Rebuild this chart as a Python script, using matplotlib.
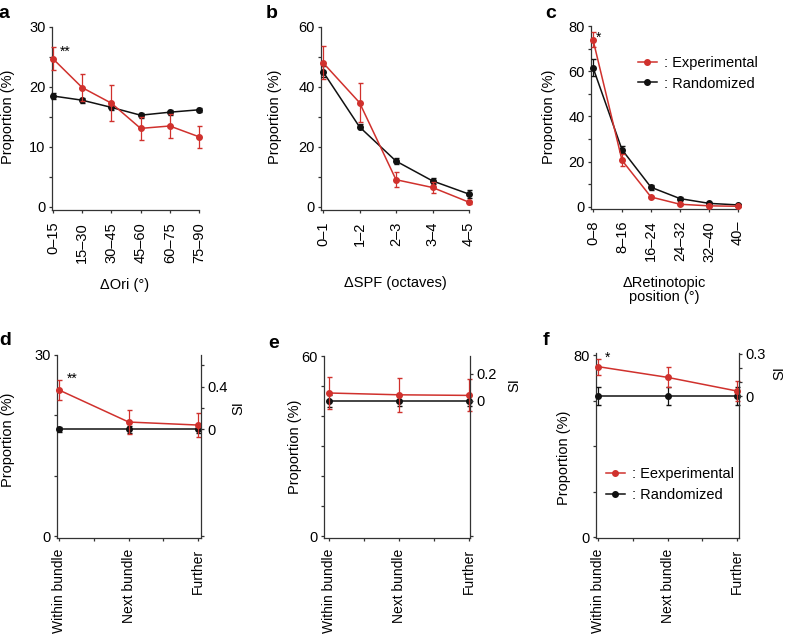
import numpy as np
import matplotlib
matplotlib.use('Agg')
import matplotlib.pyplot as plt
from matplotlib.lines import Line2D

plt.rcParams['font.family'] = ['Liberation Sans', 'DejaVu Sans']
plt.rcParams['font.size'] = 10.5

W, H = 786, 637
RED = '#d0312d'
BLK = '#111111'
AX = '#333333'

# ---- data ----
a_cats = ['0\u201315', '15\u201330', '30\u201345', '45\u201360', '60\u201375', '75\u201390']
a_exp = [24.7, 19.9, 17.3, 13.1, 13.5, 11.7]
a_exp_err = [1.9, 2.2, 3.0, 1.9, 2.0, 1.8]
a_rand = [18.5, 17.8, 16.6, 15.3, 15.8, 16.2]
a_rand_err = [0.5, 0.4, 0.4, 0.4, 0.4, 0.3]

b_cats = ['0\u20131', '1\u20132', '2\u20133', '3\u20134', '4\u20135']
b_exp = [48.1, 34.8, 9.1, 6.5, 1.6]
b_exp_err = [5.5, 6.5, 2.5, 1.8, 0.5]
b_rand = [45.1, 26.7, 15.3, 8.7, 4.3]
b_rand_err = [1.8, 0.8, 1.0, 0.9, 1.2]

c_cats = ['0\u20138', '8\u201316', '16\u201324', '24\u201332', '32\u201340', '40\u2013']
c_exp = [73.9, 20.6, 4.4, 1.2, 0.5, 0.3]
c_exp_err = [3.3, 2.6, 0.6, 0.3, 0.2, 0.1]
c_rand = [61.6, 25.3, 8.7, 3.7, 1.6, 0.9]
c_rand_err = [3.8, 1.5, 1.0, 0.5, 0.3, 0.2]

bundle_cats = ['Within bundle', 'Next bundle', 'Further']
d_exp = [24.2, 18.9, 18.4]
d_exp_err = [1.6, 2.0, 2.05]
d_rand = [17.7, 17.7, 17.7]
d_rand_err = [0.45, 0.55, 0.6]

e_exp = [47.7, 47.1, 46.9]
e_exp_err = [5.3, 5.7, 5.3]
e_rand = [45.1, 45.1, 45.1]
e_rand_err = [2.0, 1.8, 1.8]

f_exp = [74.9, 70.2, 64.2]
f_exp_err = [3.5, 4.4, 4.6]
f_rand = [62.0, 62.0, 62.0]
f_rand_err = [4.0, 3.8, 3.8]


def fx(px):
    return px / W


def fy(py):
    return 1 - py / H


fig = plt.figure(figsize=(W / 100, H / 100), dpi=100)


def make_ax(l, r, t, b, xlim, ylim):
    ax = fig.add_axes([fx(l), fy(b), (r - l) / W, (b - t) / H])
    ax.set_xlim(*xlim)
    ax.set_ylim(*ylim)
    ax.patch.set_alpha(0)
    for s in ['top', 'right']:
        ax.spines[s].set_visible(False)
    for s in ['left', 'bottom']:
        ax.spines[s].set_color(AX)
        ax.spines[s].set_linewidth(0.9)
    ax.tick_params(length=2.5, width=0.9, color=AX, pad=2)
    ax.tick_params(axis='x', pad=6)
    return ax


def draw(ax, x, exp, exp_err, rand, rand_err):
    ax.errorbar(x, rand, yerr=rand_err, color=BLK, lw=1.1, marker='o', ms=4,
                capsize=1.8, elinewidth=0.9, clip_on=False, zorder=3)
    ax.errorbar(x, exp, yerr=exp_err, color=RED, lw=1.1, marker='o', ms=4,
                capsize=1.8, elinewidth=0.9, clip_on=False, zorder=4)


def set_yticks(ax, ticks, labelled):
    ax.set_yticks(ticks)
    ax.set_yticklabels([str(t) if t in labelled else '' for t in ticks])


# ---------- a ----------
ax = make_ax(52, 199, 27, 210, (-0.034, 5), (-0.5, 30))
xa = np.arange(len(a_cats))
draw(ax, xa, a_exp, a_exp_err, a_rand, a_rand_err)
ax.set_xticks(xa)
ax.set_xticklabels(a_cats, rotation=90, va='top')
set_yticks(ax, [0, 5, 10, 15, 20, 25, 30], [0, 10, 20, 30])
ax.text(0.43, 25.8, '**', ha='center', va='center', fontsize=10)

# ---------- b ----------
ax = make_ax(321, 469, 27, 210, (-0.055, 4), (-1, 60))
xb = np.arange(len(b_cats))
draw(ax, xb, b_exp, b_exp_err, b_rand, b_rand_err)
ax.set_xticks(xb)
ax.set_xticklabels(b_cats, rotation=90, va='top')
set_yticks(ax, [0, 10, 20, 30, 40, 50, 60], [0, 20, 40, 60])

# ---------- c ----------
ax = make_ax(591, 738, 26, 209, (-0.07, 5), (-0.9, 80))
xc = np.arange(len(c_cats))
draw(ax, xc, c_exp, c_exp_err, c_rand, c_rand_err)
ax.set_xticks(xc)
ax.set_xticklabels(c_cats, rotation=90, va='top')
set_yticks(ax, [0, 10, 20, 30, 40, 50, 60, 70, 80], [0, 20, 40, 60, 80])
ax.text(0.2, 75.0, '*', ha='center', va='center', fontsize=10)
ax.legend(handles=[Line2D([], [], color=RED, marker='o', ms=4, lw=1.1, label=': Experimental'),
                   Line2D([], [], color=BLK, marker='o', ms=4, lw=1.1, label=': Randomized')],
          loc='upper left', bbox_to_anchor=(fx(638), fy(56)), bbox_transform=fig.transFigure,
          frameon=False, handlelength=1.3, handletextpad=0.5, labelspacing=0.45,
          borderpad=0, borderaxespad=0, fontsize=10.5)

# ---------- bottom row ----------
xs = np.arange(len(bundle_cats))
bottom = [
    (57, 201, 355, 538, (-0.03, 2.04), (-0.3, 30), d_exp, d_exp_err, d_rand, d_rand_err,
     [0, 10, 20, 30], [0, 30], [-1, 0, 0.2, 0.4, 0.6], ['', '0', '', '0.4', '']),
    (324, 470, 356, 538, (-0.07, 2.01), (-0.5, 60), e_exp, e_exp_err, e_rand, e_rand_err,
     [0, 10, 20, 30, 40, 50, 60], [0, 60], [-1, 0, 0.2], ['', '0', '0.2']),
    (596, 739, 353, 538, (-0.03, 2.03), (-0.4, 80.9), f_exp, f_exp_err, f_rand, f_rand_err,
     [0, 20, 40, 60, 80], [0, 80], [0, 0.1, 0.2, 0.3], ['0', '', '', '0.3']),
]
bottom_axes = []
for (l, r, t, b, xl, yl, ex, exe, ra, rae, yt, ylab, st, stl) in bottom:
    ax = make_ax(l, r, t, b, xl, yl)
    draw(ax, xs, ex, exe, ra, rae)
    ax.set_xticks([0, 0.5, 1, 1.5, 2])
    ax.set_xticklabels([bundle_cats[0], '', bundle_cats[1], '', bundle_cats[2]],
                       rotation=90, va='top', fontsize=10)
    ax.tick_params(axis='x', pad=5)
    set_yticks(ax, yt, ylab)
    base = ra[0]
    ax2 = ax.twinx()
    ax2.set_ylim(yl[0] / base - 1, yl[1] / base - 1)
    for s in ['top', 'left', 'bottom']:
        ax2.spines[s].set_visible(False)
    ax2.spines['right'].set_color(AX)
    ax2.spines['right'].set_linewidth(0.9)
    ax2.tick_params(length=2.5, width=0.9, color=AX, pad=2)
    ax2.set_yticks(st)
    ax2.set_yticklabels(stl)
    bottom_axes.append(ax)

bottom_axes[0].text(0.19, 26.0, '**', ha='center', va='center', fontsize=10)
bottom_axes[2].text(0.13, 78.8, '*', ha='center', va='center', fontsize=10)
bottom_axes[2].legend(handles=[Line2D([], [], color=RED, marker='o', ms=4, lw=1.1, label=': Eexperimental'),
                               Line2D([], [], color=BLK, marker='o', ms=4, lw=1.1, label=': Randomized')],
                      loc='upper left', bbox_to_anchor=(fx(606), fy(467)), bbox_transform=fig.transFigure,
                      frameon=False, handlelength=1.3, handletextpad=0.5, labelspacing=0.5,
                      borderpad=0, borderaxespad=0, fontsize=10.5)

# ---------- axis titles ----------
for (x, y) in [(8, 117), (275, 117), (549, 117), (8, 440), (295, 447), (564, 458)]:
    fig.text(fx(x), fy(y), 'Proportion (%)', rotation=90, ha='center', va='center')
for (x, y) in [(238, 408), (514, 385), (779, 373)]:
    fig.text(fx(x), fy(y), 'SI', rotation=90, ha='center', va='center')
fig.text(fx(125), fy(285), '\u0394Ori (\u00b0)', ha='center', va='center')
fig.text(fx(395), fy(283), '\u0394SPF (octaves)', ha='center', va='center')
fig.text(fx(664), fy(290), '\u0394Retinotopic\nposition (\u00b0)', ha='center', va='center',
         linespacing=1.0)

for (x, y, s) in [(4, 13, 'a'), (272, 13, 'b'), (551, 13, 'c'),
                  (5, 340, 'd'), (274, 343, 'e'), (546, 340, 'f')]:
    fig.text(fx(x), fy(y), s, ha='center', va='center', fontsize=14, fontweight='bold')

fig.savefig('out.png', dpi=100)
